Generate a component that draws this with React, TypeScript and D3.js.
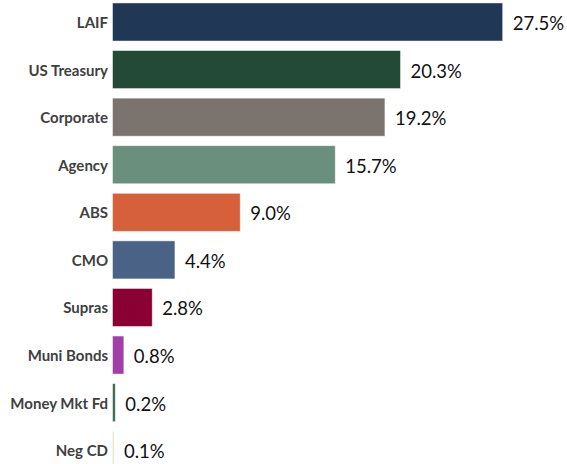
import React from "react";
import * as d3 from "d3";

const categories = ["LAIF", "US Treasury", "Corporate", "Agency", "ABS", "CMO", "Supras", "Muni Bonds", "Money Mkt Fd", "Neg CD"];
const values = [27.5, 20.3, 19.2, 15.7, 9.0, 4.4, 2.8, 0.8, 0.2, 0.1];
const colors = ["#213756", "#224a36", "#7b736e", "#6a8f7d", "#d6603a", "#4a6286", "#8a0032", "#a03fa8", "#3d6e56", "#e6d9bd"];

const W = 567;
const H = 464;

export default function App() {
  const x = d3.scaleLinear().domain([0, 27.5]).range([112.5, 502.7]);
  const y = d3.scaleBand<string>().domain(categories).range([-1.8, 474]).paddingInner(0.2).paddingOuter(0.1);
  return (
    <svg width={W} height={H} style={{ position: "absolute", left: 0, top: 0, background: "#fff" }}>
      {categories.map((c, i) => {
        const yy = y(c)!;
        const bw = y.bandwidth();
        const x1 = x(values[i]);
        return (
          <g key={c}>
            <rect x={x(0)} y={yy} width={Math.max(0, x1 - x(0))} height={bw} fill={colors[i]} stroke="#ffffff" strokeOpacity={0.6} strokeWidth={0.8} />
            <text x={108} y={yy + bw / 2} textAnchor="end" dominantBaseline="central" fontFamily="Lato, 'Open Sans', sans-serif" fontWeight="bold" fontSize={15} fill="#404040">{c}</text>
            <text x={x1 + 10} y={yy + bw / 2 + 1} textAnchor="start" dominantBaseline="central" fontFamily="Lato, 'Open Sans', sans-serif" fontSize={18.5} fill="#111">{values[i].toFixed(1) + "%"}</text>
          </g>
        );
      })}
    </svg>
  );
}
